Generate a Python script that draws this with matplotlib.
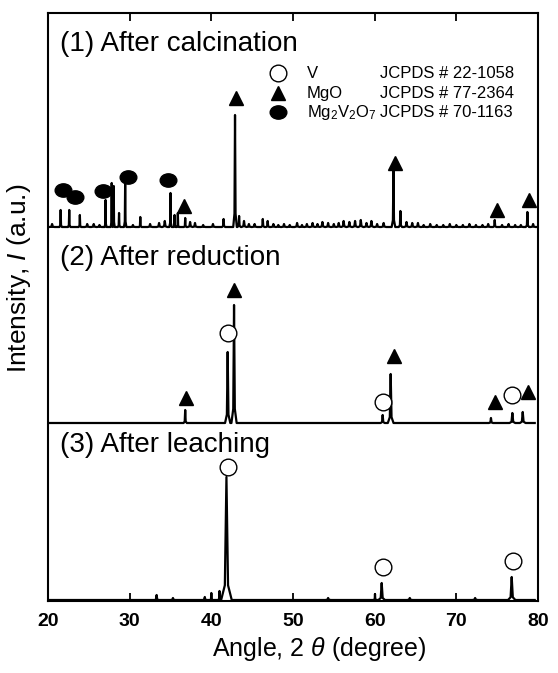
#!/usr/bin/env python3
"""
XRD patterns: after calcination / reduction / leaching
"""
import matplotlib

matplotlib.use("Agg")
import matplotlib.pyplot as plt
import matplotlib.transforms as mtransforms
from matplotlib.path import Path

plt.rcParams["font.family"] = ["Liberation Sans", "DejaVu Sans"]
plt.rcParams["mathtext.fontset"] = "custom"
plt.rcParams["mathtext.rm"] = "Liberation Sans"
plt.rcParams["mathtext.it"] = "Liberation Sans:italic"

# ---- data (2theta in degree, intensity in arbitrary units) ----
# baselines of the three stacked patterns
base_calc, base_red, base_leach = 374, 178, 1

# (1) after calcination: main reflections
calc_pos = [21.55, 22.6, 23.9, 27.05, 27.8, 28.05, 28.7, 29.45, 31.3, 35.0,
            35.5, 35.9, 36.8, 41.5, 42.9, 43.4, 46.3, 46.9, 62.3, 63.15,
            74.7, 78.7]
calc_int = [17, 17, 12, 27, 44, 41, 14, 46, 10, 34,
            12, 14, 9, 8, 112, 11, 8, 6, 57, 16,
            7, 15]
calc_wid = [0.15, 0.15, 0.15, 0.12, 0.12, 0.12, 0.15, 0.15, 0.15, 0.15,
            0.12, 0.12, 0.15, 0.2, 0.22, 0.2, 0.2, 0.2, 0.22, 0.2,
            0.2, 0.2]
# (1) after calcination: small bumps in the background
calc_bump_pos = [20.5, 24.8, 25.6, 26.3, 30.4, 32.5, 33.6, 34.3, 37.4, 38.0,
                 39.0, 40.2, 44.0, 44.6, 45.3, 47.6, 48.2, 48.9, 49.6, 50.5,
                 51.1, 51.7, 52.4, 53.0, 53.6, 54.3, 55.0, 55.6, 56.2, 56.9,
                 57.6, 58.3, 59.0, 59.6, 60.3, 61.1, 63.9, 64.6, 65.3, 66.0,
                 66.8, 67.6, 68.4, 69.2, 70.0, 70.8, 71.6, 72.4, 73.2, 73.9,
                 75.6, 76.4, 77.2, 77.9, 79.4]
calc_bump_int = [3, 3, 3, 2, 2, 3, 4, 6, 5, 4,
                 2, 3, 6, 3, 3, 3, 2, 3, 2, 4,
                 2, 3, 4, 3, 5, 4, 3, 4, 6, 5,
                 6, 7, 4, 6, 3, 4, 5, 4, 4, 2,
                 3, 2, 2, 3, 2, 2, 3, 2, 2, 3,
                 2, 3, 2, 2, 3]

# (2) after reduction
red_pos = [36.8, 42.0, 42.78, 60.98, 61.96, 74.24, 76.86, 78.13]
red_int = [13, 71, 118, 8, 49, 5, 10, 11]
red_wid = [0.2, 0.32, 0.32, 0.25, 0.35, 0.25, 0.35, 0.35]

# (3) after leaching
leach_pos = [33.3, 35.3, 39.2, 40.0, 41.0, 41.85, 54.3, 60.04, 60.86, 64.3,
             72.3, 76.78]
leach_int = [5, 2, 3, 7, 9, 123, 2, 6, 17, 2, 2, 23]
leach_wid = [0.25, 0.3, 0.2, 0.15, 0.18, 0.65, 0.35, 0.12, 0.4, 0.35, 0.35, 0.45]

# phase markers: (2theta, height)
v_marks = [(42.04, 268), (60.98, 199), (76.78, 206),
           (42.04, 134), (61.02, 34), (76.9, 40)]
mgo_marks = [(36.65, 395), (42.98, 503), (62.49, 438), (74.94, 391),
             (78.94, 401), (36.9, 203), (42.78, 311), (62.37, 245),
             (74.73, 199), (78.77, 209)]
mgv_marks = [(21.87, 411), (23.31, 404), (26.77, 410), (29.83, 424),
             (34.73, 421)]

titles = ["(1) After calcination", "(2) After reduction", "(3) After leaching"]
title_y = [550, 336, 149]

legend_labels = ["V", "MgO", r"$\mathregular{Mg_2V_2O_7}$"]
legend_cards = ["JCPDS # 22-1058", "JCPDS # 77-2364", "JCPDS # 70-1163"]
legend_y = [527.7, 507.7, 489.3]
x_ticks = [20, 30, 40, 50, 60, 70, 80]


def spike_trace(x0, x1, base, pos, height, width):
    """Build a polyline made of sharp diffraction peaks on a flat baseline"""
    xs, ys = [x0], [base]
    for p, h, w in sorted(zip(pos, height, width)):
        xs += [p - w, p - 0.3 * w, p, p + 0.3 * w, p + w]
        ys += [base, base + 0.12 * h, base + h, base + 0.12 * h, base]
    xs.append(x1)
    ys.append(base)
    return xs, ys


ellipse = Path.unit_circle().transformed(mtransforms.Affine2D().scale(1.0, 0.8))

fig = plt.figure(figsize=(5.58, 6.73), dpi=100)
ax = fig.add_axes([48 / 558, 1 - 601 / 673, 490 / 558, 588 / 673])

bump_wid = [0.3] * len(calc_bump_pos)
traces = [
    (20.0, 79.9, base_calc, calc_pos + calc_bump_pos,
     calc_int + calc_bump_int, calc_wid + bump_wid),
    (20.0, 79.6, base_red, red_pos, red_int, red_wid),
    (20.0, 79.6, base_leach, leach_pos, leach_int, leach_wid),
]
for x0, x1, base, pos, hgt, wid in traces:
    xs, ys = spike_trace(x0, x1, base, pos, hgt, wid)
    ax.plot(xs, ys, color="black", lw=1.6)

# phase markers
ax.plot([m[0] for m in v_marks], [m[1] for m in v_marks], ls="none",
        marker="o", ms=12, mfc="white", mec="black", mew=1.0)
ax.plot([m[0] for m in mgo_marks], [m[1] for m in mgo_marks], ls="none",
        marker="^", ms=10.5, color="black")
ax.plot([m[0] for m in mgv_marks], [m[1] for m in mgv_marks], ls="none",
        marker=ellipse, ms=12, color="black")

# legend drawn by hand
ax.plot(48.2, legend_y[0], marker="o", ms=12, mfc="white", mec="black", mew=1.0)
ax.plot(48.2, legend_y[1], marker="^", ms=10.5, color="black")
ax.plot(48.2, legend_y[2], marker=ellipse, ms=12, color="black")
for lab, card, y in zip(legend_labels, legend_cards, legend_y):
    ax.text(51.7, y - 5, lab, fontsize=12, va="baseline")
    ax.text(60.65, y - 5, card, fontsize=12, va="baseline")

for t, y in zip(titles, title_y):
    ax.text(21.5, y, t, fontsize=20, va="baseline")

ax.set_xlim(20, 80)
ax.set_ylim(0, 588)
ax.set_xticks(x_ticks)
ax.set_yticks([base_leach, base_red, base_calc])
ax.tick_params(axis="x", direction="in", top=True, length=6, width=1.3,
               labelsize=14, pad=9)
ax.tick_params(axis="y", direction="in", left=True, right=False, length=6,
               width=1.3, labelleft=False)
for lbl in ax.get_xticklabels():
    lbl.set_fontweight("bold")
for sp in ax.spines.values():
    sp.set_linewidth(1.5)

ax.set_xlabel(r"Angle, 2 $\mathit{\theta}$ (degree)", fontsize=18)
ax.set_ylabel(r"Intensity, $\mathit{I}$ (a.u.)", fontsize=19)
ax.xaxis.set_label_coords(0.553, -0.058)
ax.yaxis.set_label_coords(-0.03, 0.549)

fig.savefig("out.png", dpi=100)
plt.close(fig)
